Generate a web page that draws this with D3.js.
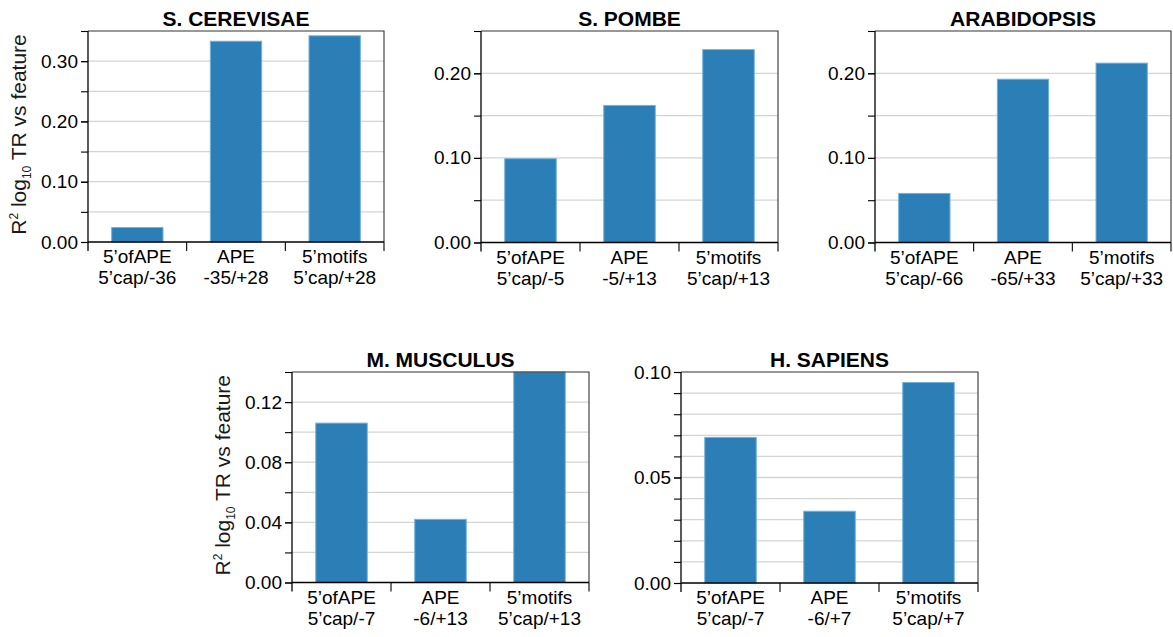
<!DOCTYPE html>
<html>
<head>
<meta charset="utf-8">
<script src="https://cdn.jsdelivr.net/npm/d3@7"></script>
<style>
  html, body { margin: 0; padding: 0; background: #fff; }
  svg { display: block; font-family: "Liberation Sans", Arial, Helvetica, sans-serif; }
</style>
</head>
<body>
<svg id="chart" width="1173" height="637"></svg>
<script>
// Species panels and the three promoter features compared in each
const species = ["S. CEREVISAE", "S. POMBE", "ARABIDOPSIS", "M. MUSCULUS", "H. SAPIENS"];
const featureNames = ["5’ofAPE", "APE", "5’motifs"];
const featureWindows = [
  ["5’cap/-36", "-35/+28", "5’cap/+28"],
  ["5’cap/-5", "-5/+13", "5’cap/+13"],
  ["5’cap/-66", "-65/+33", "5’cap/+33"],
  ["5’cap/-7", "-6/+13", "5’cap/+13"],
  ["5’cap/-7", "-6/+7", "5’cap/+7"]
];
// R² of log10 TR against each feature
const r2Values = [
  [0.024, 0.333, 0.342],
  [0.099, 0.162, 0.228],
  [0.058, 0.193, 0.212],
  [0.106, 0.042, 0.140],
  [0.069, 0.034, 0.095]
];
// Axis extents and tick values per panel
const yMax = [0.35, 0.25, 0.25, 0.14, 0.10];
const majorTicks = [
  [0, 0.10, 0.20, 0.30],
  [0, 0.10, 0.20],
  [0, 0.10, 0.20],
  [0, 0.04, 0.08, 0.12],
  [0, 0.05, 0.10]
];
const minorStep = [0.05, 0.05, 0.05, 0.02, 0.01];
const yAxisTitle = { main: "R", sup: "2", log: " log", sub: "10", rest: " TR vs feature" };

// Plot frames (left, right, top, bottom) for the 3 + 2 grid
const frames = [
  { x0: 88, x1: 384, y0: 31, y1: 242 },
  { x0: 481, x1: 778, y0: 31, y1: 242.5 },
  { x0: 875, x1: 1171, y0: 31, y1: 242.5 },
  { x0: 292, x1: 589, y0: 372, y1: 582.5 },
  { x0: 681, x1: 978, y0: 372, y1: 583 }
];
const showYTitle = [true, false, false, true, false];

const svg = d3.select("#chart");
const barFill = "#2b7eb6";
const barEdge = "#6fb0dc";

species.forEach((name, p) => {
  const f = frames[p];
  const g = svg.append("g");

  const x = d3.scaleBand()
    .domain(d3.range(featureNames.length))
    .range([f.x0, f.x1])
    .paddingInner(0.48)
    .paddingOuter(0.24);
  const y = d3.scaleLinear().domain([0, yMax[p]]).range([f.y1, f.y0]);

  // minor positions: every minorStep up to the top of the axis
  const nMinor = Math.round(yMax[p] / minorStep[p]);
  const minor = d3.range(0, nMinor + 1).map(i => +(i * minorStep[p]).toFixed(4));

  // gridlines
  g.append("g").selectAll("line")
    .data(minor.filter(v => v > 0 && v < yMax[p] - 1e-9))
    .join("line")
    .attr("x1", f.x0).attr("x2", f.x1)
    .attr("y1", d => y(d)).attr("y2", d => y(d))
    .attr("stroke", "#d4d4d4").attr("stroke-width", 1.3);

  // bars
  g.append("g").selectAll("rect")
    .data(r2Values[p])
    .join("rect")
    .attr("x", (d, i) => x(i))
    .attr("width", x.bandwidth())
    .attr("y", d => y(d))
    .attr("height", d => y(0) - y(d))
    .attr("fill", barFill)
    .attr("stroke", barEdge)
    .attr("stroke-width", 1);

  // top and right frame
  g.append("path")
    .attr("d", `M${f.x0},${f.y0}H${f.x1}V${f.y1}`)
    .attr("fill", "none").attr("stroke", "#333").attr("stroke-width", 1.1);

  // y axis: minor ticks without labels, then labelled major ticks
  const yMinorAxis = d3.axisLeft(y).tickValues(minor).tickSize(7).tickFormat("");
  const yMinorG = g.append("g").attr("transform", `translate(${f.x0},0)`).call(yMinorAxis);
  yMinorG.select(".domain").remove();
  yMinorG.selectAll("line").attr("stroke", "#000").attr("stroke-width", 1.1);

  const yAxis = d3.axisLeft(y).tickValues(majorTicks[p]).tickSize(7).tickPadding(3)
    .tickFormat(d3.format(".2f"));
  const yG = g.append("g").attr("transform", `translate(${f.x0},0)`).call(yAxis);
  yG.select(".domain").attr("d", `M0,${f.y0}V${f.y1 + 9}`).attr("stroke", "#000").attr("stroke-width", 1.3);
  yG.selectAll("line").attr("stroke", "#000").attr("stroke-width", 1.1);
  yG.selectAll("text").attr("font-size", 19).attr("fill", "#000").attr("font-family", "Liberation Sans, Arial, sans-serif");

  // x axis: baseline with ticks at band boundaries
  const step = x.step();
  const bounds = d3.range(featureNames.length + 1).map(i => f.x0 + i * step);
  g.append("line")
    .attr("x1", f.x0).attr("x2", f.x1).attr("y1", y(0)).attr("y2", y(0))
    .attr("stroke", "#000").attr("stroke-width", 1.4);
  g.append("g").selectAll("line")
    .data(bounds.slice(1))
    .join("line")
    .attr("x1", d => d).attr("x2", d => d)
    .attr("y1", y(0)).attr("y2", y(0) + 9)
    .attr("stroke", "#000").attr("stroke-width", 1.1);

  // two-line category labels
  const labels = g.append("g").selectAll("text")
    .data(featureNames)
    .join("text")
    .attr("x", (d, i) => x(i) + x.bandwidth() / 2)
    .attr("y", y(0) + 21)
    .attr("text-anchor", "middle")
    .attr("font-size", 19)
    .attr("fill", "#000");
  labels.append("tspan").text(d => d);
  labels.append("tspan")
    .attr("x", (d, i) => x(i) + x.bandwidth() / 2)
    .attr("dy", 21)
    .text((d, i) => featureWindows[p][i]);

  // panel title
  g.append("text")
    .attr("x", (f.x0 + f.x1) / 2)
    .attr("y", f.y0 - 5)
    .attr("text-anchor", "middle")
    .attr("font-size", 21)
    .attr("font-weight", "bold")
    .attr("fill", "#000")
    .text(name);

  // y axis title
  if (showYTitle[p]) {
    const t = g.append("text")
      .attr("transform", `translate(${f.x0 - 62},${(f.y0 + f.y1) / 2 - 2}) rotate(-90)`)
      .attr("text-anchor", "middle")
      .attr("font-size", 21)
      .attr("fill", "#1a1a1a");
    t.append("tspan").text(yAxisTitle.main);
    t.append("tspan").attr("font-size", 12).attr("dy", -8).text(yAxisTitle.sup);
    t.append("tspan").attr("dy", 8).text(yAxisTitle.log);
    t.append("tspan").attr("font-size", 12).attr("dy", 5).text(yAxisTitle.sub);
    t.append("tspan").attr("dy", -5).text(yAxisTitle.rest);
  }
});
</script>
</body>
</html>
